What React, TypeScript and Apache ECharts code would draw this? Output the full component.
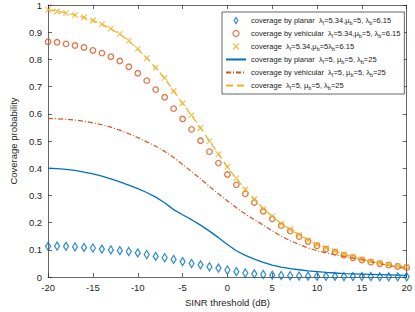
import React, { useEffect, useRef } from "react";
import * as echarts from "echarts";

const xValues = [-20, -19, -18, -17, -16, -15, -14, -13, -12, -11, -10, -9, -8, -7, -6, -5, -4, -3, -2, -1, 0, 1, 2, 3, 4, 5, 6, 7, 8, 9, 10, 11, 12, 13, 14, 15, 16, 17, 18, 19, 20];

const planarA = [0.113, 0.114, 0.113, 0.111, 0.109, 0.107, 0.103, 0.1, 0.097, 0.094, 0.089, 0.083, 0.076, 0.071, 0.065, 0.057, 0.05, 0.045, 0.038, 0.033, 0.026, 0.02, 0.015, 0.012, 0.0095, 0.007, 0.006, 0.005, 0.004, 0.0035, 0.003, 0.0028, 0.0025, 0.0022, 0.002, 0.0018, 0.0016, 0.0014, 0.0012, 0.0011, 0.001];
const vehicularA = [0.865, 0.863, 0.857, 0.851, 0.844, 0.833, 0.823, 0.81, 0.794, 0.773, 0.749, 0.722, 0.689, 0.661, 0.619, 0.581, 0.543, 0.501, 0.461, 0.419, 0.377, 0.339, 0.306, 0.274, 0.242, 0.214, 0.189, 0.169, 0.149, 0.131, 0.115, 0.103, 0.092, 0.08, 0.071, 0.063, 0.055, 0.049, 0.044, 0.039, 0.035];
const coverageA = [0.982, 0.976, 0.97, 0.963, 0.954, 0.943, 0.929, 0.913, 0.894, 0.869, 0.839, 0.805, 0.77, 0.732, 0.684, 0.639, 0.595, 0.548, 0.5, 0.452, 0.405, 0.363, 0.322, 0.286, 0.251, 0.223, 0.196, 0.175, 0.155, 0.136, 0.119, 0.107, 0.095, 0.084, 0.075, 0.066, 0.058, 0.051, 0.046, 0.041, 0.037];
const planarB = [0.4, 0.399, 0.396, 0.392, 0.386, 0.379, 0.371, 0.361, 0.35, 0.338, 0.325, 0.311, 0.294, 0.273, 0.248, 0.229, 0.211, 0.191, 0.169, 0.145, 0.12, 0.097, 0.08, 0.066, 0.054, 0.044, 0.037, 0.031, 0.027, 0.023, 0.02, 0.017, 0.015, 0.013, 0.012, 0.011, 0.01, 0.009, 0.008, 0.007, 0.006];
const vehicularB = [0.583, 0.582, 0.58, 0.577, 0.573, 0.567, 0.56, 0.551, 0.54, 0.527, 0.513, 0.497, 0.481, 0.462, 0.44, 0.414, 0.388, 0.361, 0.333, 0.306, 0.28, 0.255, 0.232, 0.211, 0.191, 0.17, 0.15, 0.134, 0.12, 0.107, 0.097, 0.089, 0.082, 0.076, 0.07, 0.064, 0.057, 0.05, 0.043, 0.037, 0.031];
const coverageB = [0.983, 0.977, 0.971, 0.963, 0.954, 0.943, 0.929, 0.912, 0.893, 0.868, 0.838, 0.805, 0.769, 0.73, 0.684, 0.638, 0.594, 0.548, 0.5, 0.452, 0.405, 0.362, 0.322, 0.286, 0.252, 0.223, 0.197, 0.175, 0.155, 0.136, 0.12, 0.107, 0.095, 0.084, 0.075, 0.066, 0.058, 0.052, 0.046, 0.041, 0.037];

const seriesNames = [
  "coverage by planar  λ_I=5.34,μ_b=5, λ_b=6.15",
  "coverage by vehicular  λ_I=5.34,μ_b=5, λ_b=6.15",
  "coverage  λ_I=5.34,μ_b=5λ_b=6.15",
  "coverage by planar  λ_I=5, μ_b=5, λ_b=25",
  "coverage by vehicular  λ_I=5, μ_b=5, λ_b=25",
  "coverage  λ_I=5, μ_b=5, λ_b=25",
];

const xTicks = { min: -20, max: 20, interval: 5 };
const yTicks = { min: 0, max: 1, interval: 0.1 };

const BLUE = "#0072BD";
const ORANGE = "#D95319";
const YELLOW = "#EDB120";
const AXIS = "#262626";
const FONT = "Liberation Sans";

const pairs = (ys: number[]) => xValues.map((x, i) => [x, ys[i]]);

export default function App() {
  const ref = useRef<HTMLDivElement>(null);
  useEffect(() => {
    document.body.style.margin = "0";
    const chart = echarts.init(ref.current!, undefined, { renderer: "svg" });
    const axisCommon = {
      type: "value" as const,
      axisLine: { show: true, onZero: false, lineStyle: { color: AXIS, width: 0.7 } },
      axisTick: { show: true, inside: true, length: 4, lineStyle: { color: AXIS, width: 0.7 } },
      splitLine: { show: false },
    };
    const labelStyle = { color: AXIS, fontSize: 9.5, fontFamily: FONT };
    const markerLegend = (name: string, color: string) => ({
      name,
      itemStyle: { color: "#ffffff", borderColor: color, borderWidth: 1.2 },
    });
    chart.setOption({
      animation: false,
      textStyle: { fontFamily: FONT },
      grid: { left: 29, right: 6, top: 5, bottom: 27, containLabel: false },
      xAxis: [
        {
          ...axisCommon,
          position: "bottom",
          ...xTicks,
          axisLabel: { ...labelStyle, margin: 5 },
          name: "SINR threshold (dB)",
          nameLocation: "middle",
          nameGap: 16,
          nameTextStyle: { ...labelStyle },
        },
        {
          ...axisCommon,
          position: "top",
          ...xTicks,
          axisLabel: { show: false },
        },
      ],
      yAxis: [
        {
          ...axisCommon,
          position: "left",
          ...yTicks,
          axisLabel: { ...labelStyle, margin: 6 },
          name: "Coverage probability",
          nameLocation: "middle",
          nameGap: 17,
          nameTextStyle: { ...labelStyle },
        },
        {
          ...axisCommon,
          position: "right",
          ...yTicks,
          axisLabel: { show: false },
        },
      ],
      legend: {
        orient: "vertical",
        left: 222,
        top: 12,
        itemWidth: 20,
        itemHeight: 6,
        itemGap: 3,
        padding: [3.5, 4, 3.5, 3],
        backgroundColor: "#ffffff",
        borderColor: AXIS,
        borderWidth: 0.7,
        borderRadius: 0,
        symbolKeepAspect: true,
        data: [
          markerLegend(seriesNames[0], BLUE),
          markerLegend(seriesNames[1], ORANGE),
          markerLegend(seriesNames[2], YELLOW),
          seriesNames[3],
          seriesNames[4],
          seriesNames[5],
        ],
        formatter: (name: string) => name.replace(/_(\w)/g, "{s|$1}"),
        textStyle: {
          color: "#222",
          fontSize: 7.5,
          fontFamily: FONT,
          lineHeight: 10,
          rich: {
            s: { fontSize: 5.5, lineHeight: 6, verticalAlign: "bottom", fontFamily: FONT, color: "#222" },
          },
        },
      },
      series: [
        {
          name: seriesNames[0],
          type: "scatter",
          data: pairs(planarA),
          symbol: "path://M5,0L10,8L5,16L0,8Z",
          symbolSize: [5, 8],
          symbolKeepAspect: false,
          itemStyle: { color: "transparent", borderColor: BLUE, borderWidth: 1.3 },
        },
        {
          name: seriesNames[1],
          type: "scatter",
          data: pairs(vehicularA),
          symbol: "circle",
          symbolSize: 5.5,
          itemStyle: { color: "transparent", borderColor: ORANGE, borderWidth: 1.3 },
        },
        {
          name: seriesNames[2],
          type: "scatter",
          data: pairs(coverageA),
          symbol: "path://M0,0L10,10M10,0L0,10",
          symbolSize: 5.5,
          itemStyle: { color: "transparent", borderColor: YELLOW, borderWidth: 1.2 },
        },
        {
          name: seriesNames[3],
          type: "line",
          data: pairs(planarB),
          symbol: "none",
          lineStyle: { color: BLUE, width: 1.3 },
          itemStyle: { color: BLUE, opacity: 0 },
        },
        {
          name: seriesNames[4],
          type: "line",
          data: pairs(vehicularB),
          symbol: "none",
          lineStyle: { color: ORANGE, width: 1.2, type: [5, 2, 1, 2] },
          itemStyle: { color: ORANGE, opacity: 0 },
        },
        {
          name: seriesNames[5],
          type: "line",
          data: pairs(coverageB),
          symbol: "none",
          lineStyle: { color: YELLOW, width: 1.2, type: [7, 4] },
          itemStyle: { color: YELLOW, opacity: 0 },
        },
      ],
    });
    return () => chart.dispose();
  }, []);
  return <div ref={ref} style={{ width: 415, height: 312 }} />;
}
